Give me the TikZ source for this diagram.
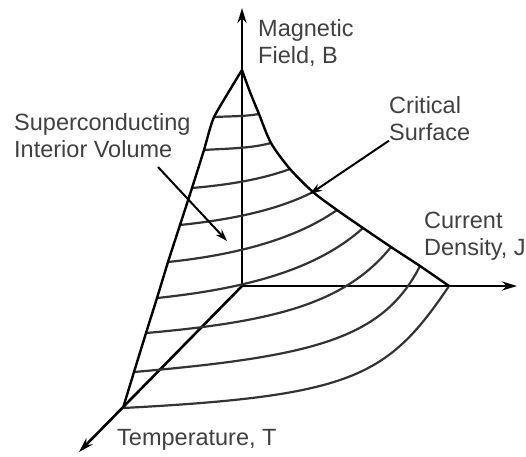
\documentclass[tikz,border=0pt]{standalone}
\usepackage{fontspec}
\setmainfont{Liberation Sans}
\usetikzlibrary{arrows.meta,calc}

\begin{document}
\begin{tikzpicture}[x=1pt, y=-1pt,
  axisline/.style={line width=2.6pt, -{Stealth[length=15pt,width=9pt]}},
  rim/.style={line width=2.4pt},
  contour/.style={line width=2.2pt, black!80},
  leader/.style={line width=2pt, -{Stealth[length=12pt,width=8pt]}},
  lbl/.style={font=\fontsize{23.5}{27}\selectfont, text=black!75, inner sep=0pt, align=left, anchor=north west},
]
% pixel grid of the reference: 1 unit = 1pt, y grows downwards
\useasboundingbox (0,0) rectangle (526,456);
\coordinate (O) at (242,286);
\coordinate (A) at (242,70);
\coordinate (Btip) at (242,8);
\coordinate (Jtip) at (517,286);
\coordinate (Ttip) at (79,452);

% axes
\draw[axisline] (O) -- (Btip);
\draw[axisline] (O) -- (Jtip);
\draw[axisline] (O) -- (Ttip);

% constant-B contours on the critical surface
\foreach \i/\xl/\yl/\xr/\yr/\ao/\lo/\ai/\li in {
  1/214/117/259/114/3/15/190/15,
  2/204/150/271/143/4/23/195/22,
  3/192/188/290/169/5/35/200/32,
  4/180/225/313/192/6/48/207/42,
  5/168/262/337/210/6/70/215/50,
  6/157/298/363/228/6/90/222/62,
  7/146/333/391/247/5/130/231/72,
  8/134/372/420/266/5/180/243/82,
  9/123/408/449/286/3/230/236/110
} {
  \coordinate (L\i) at (\xl,\yl);
  \coordinate (R\i) at (\xr,\yr);
  \draw[contour] (L\i) .. controls ($(L\i)+(\ao:\lo pt)$) and ($(R\i)+(\ai:\li pt)$) .. (R\i);
}

% rims of the surface
\draw[rim] plot[smooth, tension=0.3] coordinates {(A) (L1) (L2) (L3) (L4) (L5) (L6) (L7) (L8) (L9)};
\draw[rim] plot[smooth, tension=0.5] coordinates {(A) (250,92) (R1) (R2) (R3) (R4) (R5) (R6) (R7) (R8) (R9)};

% labels
\node[lbl] (field) at (258,19) {Magnetic\\Field, B};
\node[lbl] (inner) at (14,113) {Superconducting\\Interior Volume};
\node[lbl] (crit) at (389,96) {Critical\\Surface};
\node[lbl] (curr) at (424,212) {Current\\Density, J};
\node[lbl] (temp) at (117,429) {Temperature, T};

% leaders
\coordinate (innertail) at (158,167);
\coordinate (innertip) at (227,241);
\coordinate (crittip) at (310,194);
\draw[leader] (innertail) -- (innertip);
\draw[leader] (crit.south west) -- (crittip);
\end{tikzpicture}
\end{document}
